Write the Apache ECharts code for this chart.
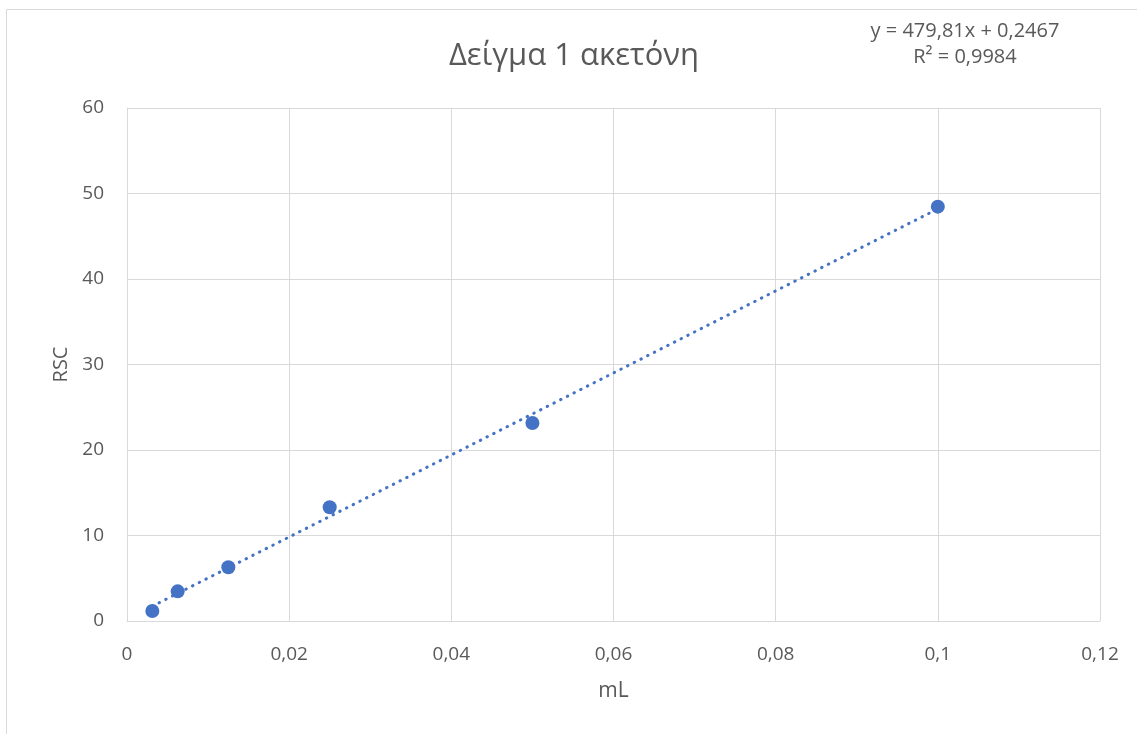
<!DOCTYPE html>
<html>
<head>
<meta charset="utf-8">
<script src="https://cdn.jsdelivr.net/npm/echarts@6/dist/echarts.min.js"></script>
<style>html,body{margin:0;padding:0;background:#fff;}#c{width:1137px;height:734px;}</style>
</head>
<body>
<div id="c"></div>
<script>
const xValues = [0.003125, 0.00625, 0.0125, 0.025, 0.05, 0.1];
const yValues = [1.17, 3.47, 6.28, 13.3, 23.16, 48.46];
const titleText = 'Δείγμα 1 ακετόνη';
const xAxisName = 'mL';
const yAxisName = 'RSC';
const trendLabel = ['y = 479,81x + 0,2467', 'R² = 0,9984'];
const xTicks = [0, 0.02, 0.04, 0.06, 0.08, 0.1, 0.12];
const yTicks = [0, 10, 20, 30, 40, 50, 60];

// least-squares trendline from the data
const n = xValues.length;
const mx = xValues.reduce((a, b) => a + b, 0) / n;
const my = yValues.reduce((a, b) => a + b, 0) / n;
let sxy = 0, sxx = 0;
for (let i = 0; i < n; i++) { sxy += (xValues[i] - mx) * (yValues[i] - my); sxx += (xValues[i] - mx) ** 2; }
const slope = sxy / sxx, intercept = my - slope * mx;
const xmin = Math.min(...xValues), xmax = Math.max(...xValues);
const trend = [[xmin, slope * xmin + intercept], [xmax, slope * xmax + intercept]];

const font = '"Open Sans", "Noto Sans", sans-serif';
const txt = '#595959';
const chart = echarts.init(document.getElementById('c'));
chart.setOption({
  animation: false,
  backgroundColor: '#fff',
  graphic: [
    { type: 'rect', shape: { x: 6.5, y: 9.5, width: 1140, height: 740 }, style: { fill: 'none', stroke: '#d9d9d9', lineWidth: 1 }, silent: true },
    { type: 'text', x: 965, y: 31, style: { text: trendLabel[0], fill: txt, font: '20px ' + font, align: 'center', verticalAlign: 'middle' } },
    { type: 'text', x: 965, y: 57, style: { text: trendLabel[1], fill: txt, font: '20px ' + font, align: 'center', verticalAlign: 'middle' } },
    { type: 'text', x: 574, y: 56, style: { text: titleText, fill: txt, font: '31px ' + font, align: 'center', verticalAlign: 'middle' } }
  ],
  grid: { left: 127, top: 108, right: 37, bottom: 113, containLabel: false },
  xAxis: {
    type: 'value', min: 0, max: 0.12, interval: 0.02,
    name: xAxisName, nameLocation: 'middle', nameGap: 60,
    nameTextStyle: { fontFamily: font, fontSize: 21, color: txt },
    axisLine: { show: true, lineStyle: { color: '#d9d9d9', width: 1 } },
    axisTick: { show: false },
    axisLabel: { fontFamily: font, fontSize: 19, color: txt, margin: 24,
      formatter: v => { const t = xTicks.find(k => Math.abs(k - v) < 1e-9); return String(t !== undefined ? t : v).replace('.', ','); } },
    splitLine: { show: true, lineStyle: { color: '#d9d9d9', width: 1 } }
  },
  yAxis: {
    type: 'value', min: 0, max: 60, interval: 10,
    name: yAxisName, nameLocation: 'middle', nameGap: 59, nameRotate: 90,
    nameTextStyle: { fontFamily: font, fontSize: 20, color: txt, verticalAlign: 'middle' },
    axisLine: { show: true, lineStyle: { color: '#d9d9d9', width: 1 } },
    axisTick: { show: false },
    axisLabel: { fontFamily: font, fontSize: 19, color: txt, margin: 23,
      formatter: v => { const t = yTicks.find(k => Math.abs(k - v) < 1e-9); return String(t !== undefined ? t : v); } },
    splitLine: { show: true, lineStyle: { color: '#d9d9d9', width: 1 } }
  },
  series: [
    {
      type: 'line', data: trend, symbol: 'none', silent: true, z: 3,
      lineStyle: { color: '#4472C4', width: 3, type: [0.5, 7], cap: 'round' }
    },
    {
      type: 'scatter', data: xValues.map((x, i) => [x, yValues[i]]), symbol: 'circle', symbolSize: 14, z: 4,
      itemStyle: { color: '#4472C4', opacity: 1 }
    }
  ]
});
</script>
</body>
</html>
